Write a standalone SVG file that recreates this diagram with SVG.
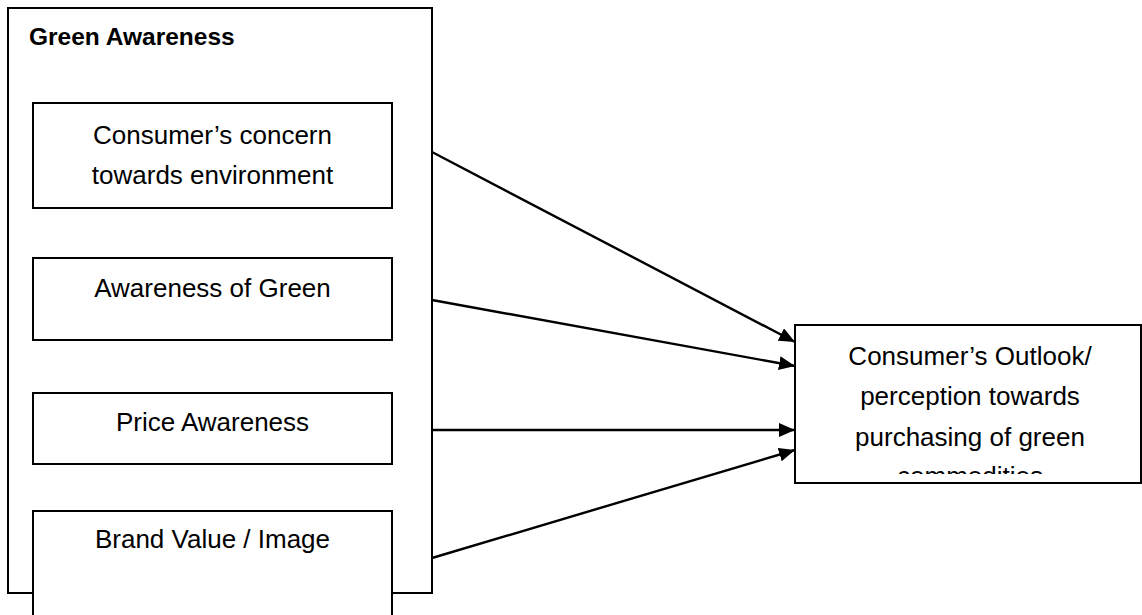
<svg xmlns="http://www.w3.org/2000/svg" width="1142" height="615" viewBox="0 0 1142 615">
<style>
.box{fill:#fff;stroke:#000;stroke-width:2}
.t{font-family:"Liberation Sans",Arial,sans-serif;font-size:26px;fill:#000;text-anchor:middle}
.title{font-family:"Liberation Sans",Arial,sans-serif;font-size:24.5px;font-weight:bold;fill:#000}
.conn{stroke:#000;stroke-width:2.4;fill:none;marker-end:url(#ah)}
</style>
<defs>
<marker id="ah" markerUnits="userSpaceOnUse" markerWidth="16" markerHeight="14" refX="16" refY="7" orient="auto">
<path d="M0,0 L16,7 L0,14 Z" fill="#000"/>
</marker>
<clipPath id="rclip"><rect x="795" y="325" width="347" height="149"/></clipPath>
</defs>
<rect width="1142" height="615" fill="#fff"/>
<g id="green-awareness">
<rect class="box" x="8" y="8" width="424" height="585"/>
<text class="title" x="29" y="45">Green Awareness</text>
</g>
<g id="concern">
<rect class="box" x="33" y="103" width="359" height="105"/>
<text class="t" x="212.5" y="144">Consumer’s concern</text>
<text class="t" x="212.5" y="184">towards environment</text>
</g>
<g id="awareness-green">
<rect class="box" x="33" y="258" width="359" height="82"/>
<text class="t" x="212.5" y="297">Awareness of Green</text>
</g>
<g id="price">
<rect class="box" x="33" y="393" width="359" height="71"/>
<text class="t" x="212.5" y="431">Price Awareness</text>
</g>
<g id="brand">
<rect class="box" x="33" y="511" width="359" height="115"/>
<text class="t" x="212.5" y="548">Brand Value / Image</text>
</g>
<g id="outlook">
<rect class="box" x="795" y="325" width="346" height="158"/>
<g clip-path="url(#rclip)">
<text class="t" x="970" y="365">Consumer’s Outlook/</text>
<text class="t" x="970" y="405">perception towards</text>
<text class="t" x="970" y="446">purchasing of green</text>
<text class="t" x="970" y="485">commodities</text>
</g>
</g>
<g id="connectors">
<line class="conn" x1="432" y1="152" x2="795" y2="342"/>
<line class="conn" x1="432" y1="300" x2="795" y2="366"/>
<line class="conn" x1="432" y1="430" x2="795" y2="430"/>
<line class="conn" x1="432" y1="558" x2="795" y2="450"/>
</g>
</svg>
